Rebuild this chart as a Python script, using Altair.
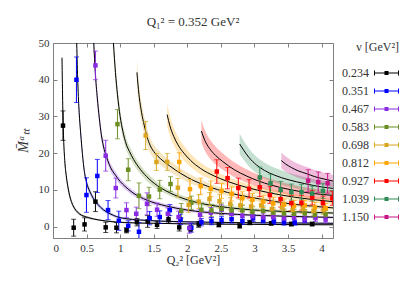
import altair as alt
import pandas as pd

# ---------------- data ----------------
NU = ["0.234", "0.351", "0.467", "0.583", "0.698", "0.812", "0.927", "1.039", "1.150"]
COLORS = ["#000000", "#0000ff", "#8a2be2", "#6b8e23", "#daa520", "#ffa500",
          "#ff0000", "#2e8b57", "#c71585"]

# lattice points: Q2^2, value, error
p0_x = [0.149, 0.308, 0.470, 0.632, 0.785, 0.945, 1.094, 1.25, 1.41, 1.55, 1.72, 1.88, 2.05, 2.17, 2.47, 2.78, 2.93, 3.25, 3.55, 3.86]
p0_y = [27.5, -0.3, 0.6, 6.8, -0.2, -0.3, -1.0, 1.2, 1.4, 0.5, 2.0, -0.2, -0.6, 0.6, 0.5, 0.2, 1.1, 0.9, 0.7, 0.7]
p0_e = [4.0, 2.3, 1.8, 2.7, 1.4, 1.4, 0.7, 1.0, 1.6, 1.0, 1.0, 1.0, 0.8, 0.8, 0.6, 0.6, 0.6, 0.5, 0.5, 0.5]

p1_x = [0.349, 0.498, 0.66, 0.82, 0.98, 1.12, 1.28, 1.44, 1.59, 1.74, 1.90, 2.06, 2.21, 2.36, 2.51, 2.66, 2.82, 2.98, 3.13, 3.29, 3.44, 3.60, 3.75]
p1_y = [40.0, 8.6, 13.8, 4.5, 1.6, 0.2, -1.4, 2.3, 2.6, 4.5, 2.0, -0.3, 1.2, 1.5, 1.8, 2.0, 1.5, 2.3, 1.8, 1.4, 1.2, 1.1, 1.8]
p1_e = [6.2, 4.7, 4.5, 2.6, 2.6, 1.4, 2.5, 1.8, 1.7, 1.5, 1.4, 1.2, 1.0, 1.0, 1.0, 1.0, 0.9, 0.9, 0.8, 0.8, 0.8, 0.7, 0.7]

p2_x = [0.632, 0.785, 0.935, 1.094, 1.24, 1.40, 1.55, 1.71, 1.87, 2.03, 2.19, 2.35, 2.51, 2.66, 2.82, 2.97, 3.13, 3.28, 3.44, 3.59, 3.75, 3.91, 4.06]
p2_y = [43.9, 19.3, 10.5, 4.5, 3.5, 6.2, 4.6, 3.5, 2.6, -0.4, 3.2, 3.8, 4.6, 3.5, 3.0, 2.8, 2.5, 2.6, 2.2, 2.4, 2.0, 2.3, 1.9]
p2_e = [3.9, 4.2, 2.7, 2.0, 1.8, 3.0, 1.8, 1.6, 1.6, 1.4, 1.4, 1.4, 1.3, 1.2, 1.2, 1.1, 1.0, 1.0, 1.0, 1.0, 0.9, 0.9, 0.9]

p3_x = [0.96, 1.12, 1.28, 1.43, 1.59, 1.75, 1.91, 2.06, 2.21, 2.36, 2.51, 2.66, 2.82, 2.97, 3.13, 3.28, 3.44, 3.59, 3.75, 3.90, 4.06]
p3_y = [27.9, 15.5, 8.4, 8.2, 10.1, 11.6, 4.3, 6.5, 4.6, 4.4, 4.8, 4.4, 4.4, 4.0, 4.3, 3.8, 3.6, 3.5, 3.6, 3.2, 3.3]
p3_e = [4.0, 3.0, 3.5, 2.5, 2.5, 2.0, 2.0, 1.8, 1.8, 1.6, 1.6, 1.5, 1.4, 1.4, 1.3, 1.3, 1.2, 1.2, 1.1, 1.1, 1.1]

p4_x = [1.38, 1.54, 1.70, 1.86, 2.02, 2.17, 2.33, 2.48, 2.64, 2.79, 2.95, 3.10, 3.26, 3.41, 3.57, 3.72, 3.88, 4.03]
p4_y = [24.8, 17.6, 17.6, 10.6, 5.9, 6.8, 7.5, 6.9, 6.2, 5.8, 5.5, 5.8, 4.8, 5.2, 4.6, 4.9, 4.3, 4.5]
p4_e = [3.8, 2.3, 2.3, 2.5, 2.0, 1.9, 1.8, 1.8, 1.7, 1.6, 1.6, 1.5, 1.4, 1.4, 1.3, 1.3, 1.2, 1.2]

p5_x = [1.88, 2.04, 2.20, 2.35, 2.51, 2.66, 2.82, 2.97, 3.13, 3.28, 3.44, 3.59, 3.75, 3.90, 4.06]
p5_y = [17.6, 10.2, 11.0, 10.3, 9.7, 8.9, 7.7, 7.3, 6.8, 6.3, 6.0, 5.6, 5.8, 5.2, 5.0]
p5_e = [2.5, 2.6, 2.2, 2.1, 2.0, 1.9, 1.8, 1.7, 1.6, 1.6, 1.5, 1.5, 1.4, 1.4, 1.3]

p6_x = [2.44, 2.60, 2.76, 2.92, 3.08, 3.23, 3.39, 3.55, 3.70, 3.86, 4.02, 4.16]
p6_y = [15.0, 13.2, 10.5, 10.3, 10.7, 8.6, 7.5, 6.4, 6.5, 7.9, 6.4, 7.7]
p6_e = [3.2, 2.9, 2.7, 2.5, 2.5, 2.3, 2.2, 2.1, 2.0, 2.0, 1.9, 1.9]

p7_x = [3.08, 3.24, 3.39, 3.55, 3.70, 3.86, 4.02]
p7_y = [13.4, 11.8, 10.0, 9.4, 9.4, 9.0, 9.7]
p7_e = [2.8, 2.5, 2.3, 2.2, 2.1, 2.0, 2.0]

p8_x = [3.80, 3.95, 4.09]
p8_y = [12.5, 12.1, 11.8]
p8_e = [3.0, 2.8, 2.7]

# fit curves: Q2^2, central value, half-width of the band
c0_x = [0.134, 0.145, 0.158, 0.175, 0.20, 0.225, 0.25, 0.28, 0.32, 0.40, 0.50, 0.60, 0.80, 1.07, 1.5, 2.0, 3.0, 4.17]
c0_y = [46, 33, 24, 18, 13.5, 10.5, 8.3, 6.5, 5.0, 3.4, 2.6, 2.1, 1.5, 1.1, 0.9, 0.75, 0.6, 0.5]
c0_w = [3, 2.5, 2, 1.6, 1.2, 1, 0.8, 0.6, 0.5, 0.4, 0.3, 0.25, 0.2, 0.2, 0.15, 0.15, 0.15, 0.15]

c1_x = [0.353, 0.37, 0.39, 0.41, 0.43, 0.46, 0.50, 0.55, 0.60, 0.67, 0.75, 0.85, 0.95, 1.07, 1.3, 1.6, 2.0, 2.5, 3.0, 3.5, 4.17]
c1_y = [50, 39, 31, 26, 21.5, 16, 12, 9.5, 7.7, 6.0, 4.6, 3.5, 2.7, 2.2, 1.8, 1.5, 1.3, 1.15, 1.05, 1.0, 0.9]
c1_w = [3, 2.5, 2, 1.8, 1.5, 1.2, 1.0, 0.8, 0.7, 0.6, 0.5, 0.4, 0.35, 0.3, 0.3, 0.25, 0.25, 0.2, 0.2, 0.2, 0.2]

c2_x = [0.607, 0.63, 0.66, 0.69, 0.72, 0.75, 0.80, 0.86, 0.93, 1.0, 1.07, 1.19, 1.4, 1.69, 2.0, 2.5, 3.0, 3.5, 4.17]
c2_y = [50, 42, 35, 29.5, 25, 22, 18.8, 16, 14, 12.3, 11.0, 9.2, 7.2, 5.6, 4.5, 3.6, 3.1, 2.8, 2.5]
c2_w = [3, 2.6, 2.2, 1.9, 1.6, 1.4, 1.2, 1.1, 1.0, 0.9, 0.8, 0.7, 0.6, 0.5, 0.45, 0.4, 0.35, 0.35, 0.3]

c3_x = [0.90, 0.93, 0.96, 1.0, 1.04, 1.09, 1.14, 1.2, 1.3, 1.43, 1.6, 1.74, 2.0, 2.26, 2.6, 3.0, 3.5, 4.17]
c3_y = [50, 42, 36, 30, 26, 22.5, 20.4, 18.3, 15.6, 13, 10.6, 9.2, 7.3, 6.1, 5.2, 4.5, 4.1, 3.7]
c3_w = [3, 2.6, 2.3, 2.0, 1.8, 1.6, 1.5, 1.4, 1.2, 1.1, 0.9, 0.8, 0.7, 0.6, 0.55, 0.5, 0.45, 0.4]

c4_x = [1.25, 1.28, 1.32, 1.36, 1.40, 1.45, 1.52, 1.6, 1.74, 1.9, 2.1, 2.3, 2.6, 3.0, 3.5, 4.17]
c4_y = [42, 36, 31, 27.5, 24.5, 22, 20, 18.5, 16.5, 14.5, 12.5, 11, 9.3, 7.8, 6.3, 5.1]
c4_w = [3.5, 3.0, 2.7, 2.4, 2.2, 2.0, 1.8, 1.7, 1.5, 1.3, 1.2, 1.0, 0.9, 0.8, 0.7, 0.6]

c5_x = [1.70, 1.74, 1.80, 1.86, 1.95, 2.05, 2.2, 2.4, 2.6, 2.9, 3.2, 3.6, 4.17]
c5_y = [30.5, 27.5, 24.5, 22.3, 20, 18, 15.8, 13.8, 12.3, 10.6, 9.3, 8.0, 6.8]
c5_w = [3.0, 2.7, 2.4, 2.2, 2.0, 1.8, 1.6, 1.4, 1.3, 1.1, 1.0, 0.9, 0.8]

c6_x = [2.21, 2.26, 2.33, 2.42, 2.53, 2.7, 2.88, 3.05, 3.25, 3.5, 3.8, 4.17]
c6_y = [26, 23.5, 21.3, 19.4, 17.7, 15.5, 13.8, 12.5, 11.3, 10.2, 9.2, 8.5]
c6_w = [3.0, 2.8, 2.6, 2.4, 2.2, 2.0, 1.8, 1.7, 1.6, 1.5, 1.4, 1.3]

c7_x = [2.78, 2.84, 2.92, 3.03, 3.15, 3.3, 3.5, 3.75, 4.0, 4.17]
c7_y = [22.5, 20.8, 18.8, 16.8, 15.3, 14.0, 12.8, 11.7, 10.8, 10.4]
c7_w = [2.8, 2.6, 2.4, 2.2, 2.1, 2.0, 1.9, 1.8, 1.7, 1.6]

c8_x = [3.40, 3.46, 3.55, 3.65, 3.78, 3.9, 4.05, 4.17]
c8_y = [18, 17.1, 16.1, 15.2, 14.4, 13.6, 12.9, 12.4]
c8_w = [2.2, 2.1, 2.0, 1.9, 1.8, 1.8, 1.7, 1.7]

X_TICKS = [0, 0.5, 1, 1.5, 2, 2.5, 3, 3.5, 4]
Y_TICKS = [0, 10, 20, 30, 40, 50]

# ---------------- tables ----------------
PTS = [(p0_x, p0_y, p0_e), (p1_x, p1_y, p1_e), (p2_x, p2_y, p2_e), (p3_x, p3_y, p3_e),
       (p4_x, p4_y, p4_e), (p5_x, p5_y, p5_e), (p6_x, p6_y, p6_e), (p7_x, p7_y, p7_e),
       (p8_x, p8_y, p8_e)]
CUR = [(c0_x, c0_y, c0_w), (c1_x, c1_y, c1_w), (c2_x, c2_y, c2_w), (c3_x, c3_y, c3_w),
       (c4_x, c4_y, c4_w), (c5_x, c5_y, c5_w), (c6_x, c6_y, c6_w), (c7_x, c7_y, c7_w),
       (c8_x, c8_y, c8_w)]

rows = []
for nu, (xs, ys, es) in zip(NU, PTS):
    for x, y, e in zip(xs, ys, es):
        rows.append({"nu": nu, "q2": x, "m": y, "lo": y - e, "hi": y + e})
pts = pd.DataFrame(rows)

crows = []
for nu, (xs, ys, ws) in zip(NU, CUR):
    for x, y, w in zip(xs, ys, ws):
        crows.append({"nu": nu, "q2": x, "c": y, "clo": y - w, "chi": y + w})
cur = pd.DataFrame(crows)

# ---------------- styling ----------------
W, H = 280, 195
FONT = "Liberation Serif"
TXT = "#333333"
FRAME = "#808080"

xscale = alt.Scale(domain=[0, 4.17], nice=False, zero=False)
yscale = alt.Scale(domain=[-3.1, 50], nice=False, zero=False)

# the legend-carrying colour scale, and a same-mapping scale (listed in reverse
# order) for the layers that must not contribute a legend
legend_scale = alt.Scale(domain=NU, range=COLORS)
plain_scale = alt.Scale(domain=NU[::-1], range=COLORS[::-1])

ax_x_main = alt.Axis(values=X_TICKS, format="~g", ticks=False, domain=False, grid=False,
                     labelFont=FONT, labelFontSize=11, labelColor=TXT, labelPadding=4,
                     title="Q₂² [GeV²]", titleFont=FONT, titleFontSize=12,
                     titleFontWeight="normal", titleColor=TXT, titlePadding=1)
ax_y_main = alt.Axis(values=Y_TICKS, ticks=False, domain=False, grid=False,
                     labelFont=FONT, labelFontSize=11, labelColor=TXT, labelPadding=4,
                     title="M̄ᵃₜₜ", titleFont=FONT, titleFontSize=14, titleFontStyle="italic",
                     titleFontWeight="normal", titleColor=TXT, titlePadding=8)


def tick_axis(orient, offset, vals):
    return alt.Axis(orient=orient, offset=offset, values=vals, labels=False, domain=False,
                    grid=False, ticks=True, tickSize=4, tickColor=FRAME, tickWidth=1,
                    title="")


SYMBOL = ("M8.4,-0.1H13.4V0.1H8.4Z"
          "M8.4,-0.5H8.6V0.5H8.4Z"
          "M13.2,-0.5H13.4V0.5H13.2Z"
          "M10.5,-0.4H11.3V0.4H10.5Z")

legend = alt.Legend(title="ν [GeV²]", orient="none", legendX=273, legendY=-1,
                    symbolType=SYMBOL, symbolSize=100, symbolStrokeWidth=0,
                    labelFont=FONT, labelFontSize=12, labelColor=TXT, labelOffset=4,
                    titleFont=FONT, titleFontSize=12, titleFontWeight="normal",
                    titleColor=TXT, titleAnchor="end", titlePadding=13, rowPadding=6,
                    padding=0)

band = alt.Chart(cur).mark_area(opacity=0.28, interpolate="monotone", clip=True).encode(
    x=alt.X("q2:Q", scale=xscale, axis=ax_x_main),
    y=alt.Y("clo:Q", scale=yscale, axis=ax_y_main),
    y2="chi:Q",
    fill=alt.Fill("nu:N", scale=plain_scale, legend=None),
)

line = alt.Chart(cur).mark_line(color="black", strokeWidth=1, interpolate="monotone",
                                clip=True).encode(
    x=alt.X("q2:Q", scale=xscale, axis=tick_axis("top", -H, X_TICKS)),
    y=alt.Y("c:Q", scale=yscale, axis=tick_axis("right", -W, Y_TICKS)),
    detail="nu:N",
)

err = alt.Chart(pts).mark_rule(strokeWidth=1, clip=True).encode(
    x=alt.X("q2:Q", scale=xscale, axis=None),
    y=alt.Y("lo:Q", scale=yscale, axis=None),
    y2="hi:Q",
    stroke=alt.Stroke("nu:N", scale=plain_scale, legend=None),
)

cap_lo = alt.Chart(pts).mark_tick(orient="horizontal", size=5, thickness=1, clip=True).encode(
    x=alt.X("q2:Q", scale=xscale, axis=None),
    y=alt.Y("lo:Q", scale=yscale, axis=None),
    fill=alt.Fill("nu:N", scale=plain_scale, legend=None),
)

cap_hi = alt.Chart(pts).mark_tick(orient="horizontal", size=5, thickness=1, clip=True).encode(
    x=alt.X("q2:Q", scale=xscale, axis=None),
    y=alt.Y("hi:Q", scale=yscale, axis=None),
    fill=alt.Fill("nu:N", scale=plain_scale, legend=None),
)

points = alt.Chart(pts).mark_point(shape="square", filled=True, size=20, opacity=1,
                                   clip=True).encode(
    x=alt.X("q2:Q", scale=xscale, axis=tick_axis("bottom", -H, X_TICKS)),
    y=alt.Y("m:Q", scale=yscale, axis=tick_axis("left", -W, Y_TICKS)),
    color=alt.Color("nu:N", scale=legend_scale, legend=legend),
)

chart = alt.layer(band, line, err, cap_lo, cap_hi, points).resolve_axis(
    x="independent", y="independent"
).properties(
    width=W, height=H,
    title=alt.Title("Q₁² = 0.352 GeV²", font=FONT, fontSize=13, fontWeight="normal",
                    color=TXT, offset=8, anchor="middle"),
    autosize=alt.AutoSizeParams(type="none"),
    padding={"left": 45, "top": 35, "right": 66, "bottom": 32},
).configure_view(stroke=FRAME, strokeWidth=1)

chart.save("out.html", embed_options={"renderer": "svg", "actions": False})
